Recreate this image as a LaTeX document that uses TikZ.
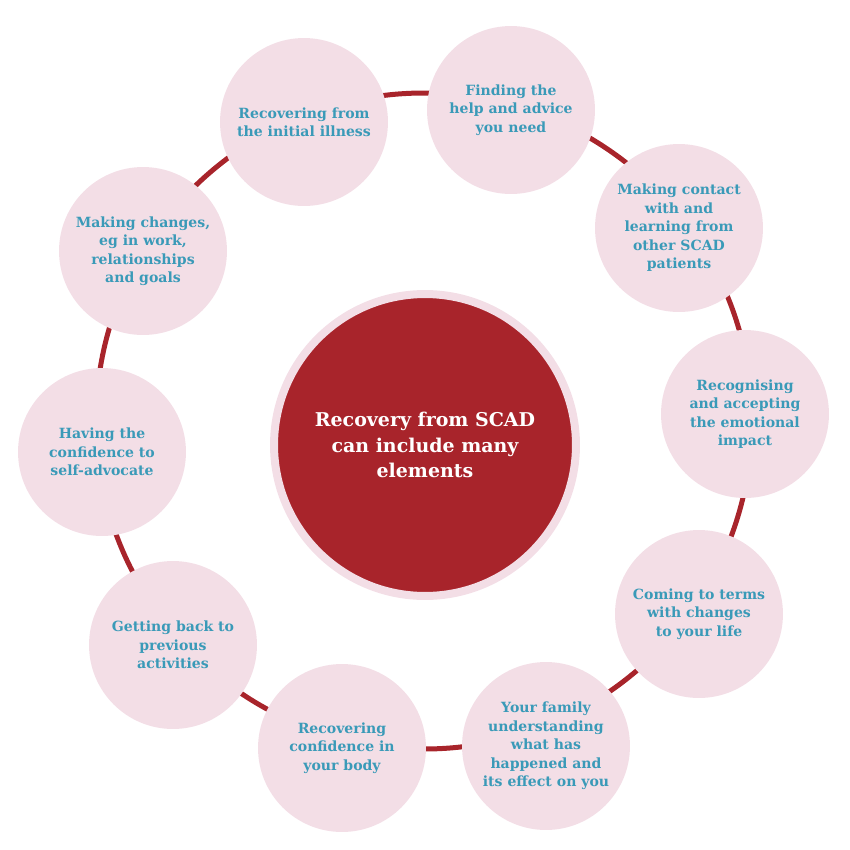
\documentclass[tikz,border=0pt]{standalone}
\usepackage{fontspec}
\setmainfont{DejaVu Serif}
\usetikzlibrary{positioning}
\definecolor{cRed}{RGB}{168,36,43}
\definecolor{cPink}{RGB}{243,222,230}
\definecolor{cTeal}{RGB}{58,154,184}

\begin{document}
\begin{tikzpicture}[x=0.02cm,y=-0.02cm]
\tikzset{
 el/.style={circle,fill=cPink,minimum size=3.36cm,inner sep=0,align=center,text=cTeal,font=\fontsize{8}{10.5}\selectfont\bfseries},
 hub/.style={circle,fill=cRed,draw=cPink,line width=0.16cm,minimum size=6.04cm,inner sep=0,align=center,text=white,font=\fontsize{10.8}{14.5}\selectfont\bfseries},
 ring/.style={cRed,line width=0.1cm}
}
\useasboundingbox (0,0) rectangle (850,850);
\coordinate (o) at (424,421);
\draw[ring] (o) circle[radius=328];
\node[hub] (c) at (425,445) {Recovery from SCAD\\can include many\\elements};
\node[el] (e1) at (511,110) {Finding the\\help and advice\\you need};
\node[el] (e2) at (679,228) {Making contact\\with and\\learning from\\other SCAD\\patients};
\node[el] (e3) at (745,414) {Recognising\\and accepting\\the emotional\\impact};
\node[el] (e4) at (699,614) {Coming to terms\\with changes\\to your life};
\node[el] (e5) at (546,746) {Your family\\understanding\\what has\\happened and\\its effect on you};
\node[el] (e6) at (342,748) {Recovering\\confidence in\\your body};
\node[el] (e7) at (173,645) {Getting back to\\previous\\activities};
\node[el] (e8) at (102,452) {Having the\\confidence to\\self-advocate};
\node[el] (e9) at (143,251) {Making changes,\\eg in work,\\relationships\\and goals};
\node[el] (e10) at (304,122) {Recovering from\\the initial illness};
\end{tikzpicture}
\end{document}
